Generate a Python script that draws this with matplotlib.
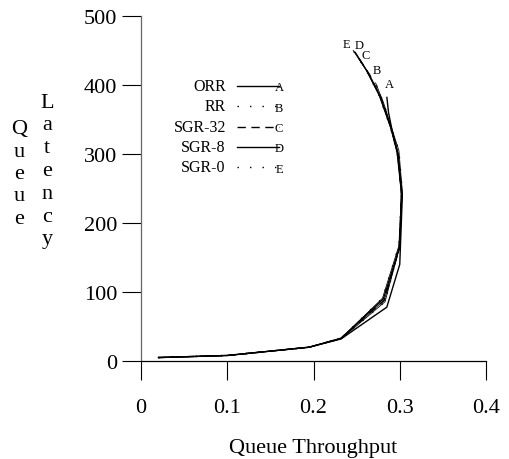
import matplotlib
matplotlib.use("Agg")
import matplotlib.pyplot as plt

plt.rcParams['font.family'] = ['Liberation Serif', 'DejaVu Serif']

# 각 스케줄러의 처리량(x)과 지연(y) 값
names = ["ORR", "RR", "SGR-32", "SGR-8", "SGR-0"]
tags = ["A", "B", "C", "D", "E"]
styles = ["solid", "dotted", "dashed", "solid", "dotted"]

orr_x = [0.020, 0.100, 0.195, 0.232, 0.285, 0.300, 0.303, 0.298, 0.291, 0.287, 0.285]
orr_y = [5, 8, 20, 32, 78, 140, 240, 300, 335, 360, 383]
rr_x = [0.020, 0.100, 0.195, 0.232, 0.283, 0.299, 0.303, 0.299, 0.291, 0.281, 0.272]
rr_y = [5, 8, 20, 32, 86, 162, 245, 305, 336, 375, 403]
sgr32_x = [0.020, 0.100, 0.195, 0.232, 0.282, 0.300, 0.302, 0.298, 0.290, 0.278, 0.265, 0.253]
sgr32_y = [5, 8, 20, 33, 88, 165, 242, 300, 338, 382, 415, 438]
sgr8_x = [0.020, 0.100, 0.195, 0.232, 0.281, 0.300, 0.302, 0.297, 0.290, 0.277, 0.262, 0.248]
sgr8_y = [5, 8, 20, 33, 90, 166, 244, 302, 338, 384, 420, 448]
sgr0_x = [0.020, 0.100, 0.195, 0.232, 0.280, 0.299, 0.302, 0.297, 0.289, 0.276, 0.261, 0.246]
sgr0_y = [5, 8, 20, 33, 91, 167, 245, 303, 339, 385, 422, 450]

series_x = [orr_x, rr_x, sgr32_x, sgr8_x, sgr0_x]
series_y = [orr_y, rr_y, sgr32_y, sgr8_y, sgr0_y]
tag_offsets = [(1.5, 9), (1, 9), (5, 3), (3, 5), (-5, 5)]

x_ticks = [0, 0.1, 0.2, 0.3, 0.4]
x_labels = ["0", "0.1", "0.2", "0.3", "0.4"]
y_ticks = [0, 100, 200, 300, 400, 500]

fig = plt.figure(figsize=(5.09, 4.6), dpi=100)
ax = fig.add_axes([141 / 509, 98 / 460, 345 / 509, 345 / 460])


def dash_for(style):
    if style == "dotted":
        return (0, (1, 8))
    if style == "dashed":
        return (0, (6, 4))
    return "solid"


for xs, ys, st, tag, off in zip(series_x, series_y, styles, tags, tag_offsets):
    ax.plot(xs, ys, color="black", lw=1.0, linestyle="solid" if st == "solid" else dash_for(st),
            solid_capstyle="butt")
    if st != "solid":
        ax.plot(xs, ys, color="black", lw=0.6)
    ax.annotate(tag, (xs[-1], ys[-1]), xytext=off, textcoords="offset points",
                ha="center", va="center", fontsize=9)

# 범례 (선 + 끝의 글자)
for i, (nm, st, tag) in enumerate(zip(names, styles, tags)):
    yy = 0.797 - i * 0.0588
    ax.text(0.246, yy, nm, transform=ax.transAxes, ha="right", va="center", fontsize=11.5)
    ax.plot([0.278, 0.400], [yy, yy], transform=ax.transAxes, color="black", lw=1.0,
            linestyle=dash_for(st))
    ax.text(0.400, yy - 0.004, tag, transform=ax.transAxes, ha="center", va="center", fontsize=9)

ax.set_xlim(0, 0.4)
ax.set_ylim(0, 500)
ax.set_xticks(x_ticks)
ax.set_xticklabels(x_labels)
ax.set_yticks(y_ticks)
ax.tick_params(direction="out", length=14, width=0.8, labelsize=16)
ax.tick_params(axis="x", pad=13)
ax.tick_params(axis="y", pad=3)
for s in ["top", "right"]:
    ax.spines[s].set_visible(False)
ax.spines["left"].set_color("#666666")
for s in ax.spines.values():
    s.set_linewidth(0.9)

ax.set_xlabel("Queue Throughput", fontsize=16, labelpad=14.5)

# 세로로 쌓인 y축 레이블
for j, ch in enumerate("Queue"):
    fig.text(19 / 509, 1 - (130 + j * 22.3) / 460, ch, ha="center", va="center", fontsize=16)
for j, ch in enumerate("Latency"):
    fig.text(47 / 509, 1 - (103 + j * 22.8) / 460, ch, ha="center", va="center", fontsize=16)

plt.savefig("out.png", dpi=100)
